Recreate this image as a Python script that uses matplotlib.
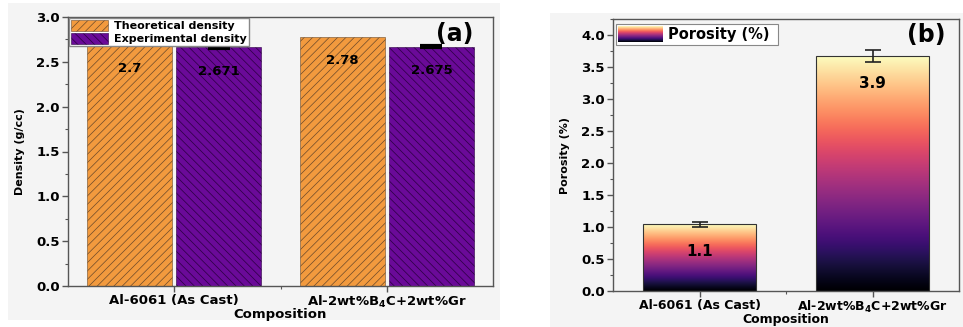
import numpy as np
import matplotlib
matplotlib.use('Agg')
from matplotlib import pyplot as plt
from matplotlib.patches import Rectangle
from matplotlib.ticker import MultipleLocator, FixedLocator

# data
categories = ['Al-6061 (As Cast)', 'Al-2wt%B$_\\mathbf{4}$C+2wt%Gr']
theoretical = [2.70, 2.78]
experimental = [2.665, 2.67]
experimental_err = [0.01, 0.01]
density_labels = [['2.7', '2.671'], ['2.78', '2.675']]

porosity = [1.04, 3.67]
porosity_err = [0.04, 0.09]
porosity_labels = ['1.1', '3.9']

orange = '#F29A3E'
purple = '#6A0A98'
panel_bg = '#f4f4f4'
spine_col = '#555555'

plt.rcParams['font.family'] = 'DejaVu Sans'
plt.rcParams['font.weight'] = 'bold'
plt.rcParams['hatch.linewidth'] = 0.5

fig = plt.figure(figsize=(9.63, 3.27), dpi=100)
fig.patch.set_facecolor('white')

# grey panel backgrounds
fig.add_artist(Rectangle((8 / 963, 7 / 327), 492 / 963, 317 / 327,
                         transform=fig.transFigure, facecolor=panel_bg,
                         edgecolor='none', zorder=0))
fig.add_artist(Rectangle((550 / 963, 0), 413 / 963, 314 / 327,
                         transform=fig.transFigure, facecolor=panel_bg,
                         edgecolor='none', zorder=0))


def style_axes(ax):
    ax.set_facecolor(panel_bg)
    for s in ax.spines.values():
        s.set_color(spine_col)
        s.set_linewidth(1.0)
    ax.tick_params(which='major', direction='out', length=4, width=1,
                   color=spine_col, labelsize=9.5, pad=2)
    ax.tick_params(which='minor', direction='out', length=2.5, width=0.8,
                   color=spine_col)
    for lab in ax.get_yticklabels() + ax.get_xticklabels():
        lab.set_fontweight('bold')


# ---------------- panel (a) ----------------
ax1 = fig.add_axes([68 / 963, 41 / 327, 425 / 963, 269 / 327])
x = np.arange(len(categories))
w = 0.4
gap = 0.01
ax1.bar(x - w / 2 - gap, theoretical, w, color=orange, edgecolor='#6b4a2a',
        linewidth=0.4, hatch='////', label='Theoretical density', zorder=2)
ax1.bar(x + w / 2 + gap, experimental, w, color=purple, edgecolor='#2a0040',
        linewidth=0.4, hatch='\\\\\\\\', label='Experimental density', zorder=2)
ax1.errorbar(x + w / 2 + gap, experimental, yerr=experimental_err, fmt='none',
             ecolor='black', elinewidth=2, capsize=8, capthick=3, zorder=3)

for i in range(len(categories)):
    ax1.text(x[i] - w / 2 - gap, theoretical[i] - 0.27, density_labels[i][0],
             ha='center', va='center', fontsize=9.5, fontweight='bold', zorder=4)
    ax1.text(x[i] + w / 2 + gap, experimental[i] - 0.27, density_labels[i][1],
             ha='center', va='center', fontsize=9.5, fontweight='bold', zorder=4)

ax1.set_xlim(-0.5, 1.5)
ax1.set_ylim(0, 3.0)
ax1.set_xticks(x)
ax1.set_xticklabels(categories)
ax1.xaxis.set_minor_locator(FixedLocator([0.5]))
ax1.yaxis.set_major_locator(MultipleLocator(0.5))
ax1.yaxis.set_minor_locator(MultipleLocator(0.25))
ax1.set_ylabel('Density (g/cc)', fontsize=8, fontweight='bold', labelpad=8)
ax1.set_xlabel('Composition', fontsize=9.5, fontweight='bold', labelpad=-2)
style_axes(ax1)
leg = ax1.legend(loc='upper left', borderaxespad=0.1,
                 frameon=True, fancybox=False, handlelength=3.3,
                 handleheight=1.1, labelspacing=0.15, borderpad=0.2,
                 handletextpad=0.5, prop={'weight': 'bold', 'size': 8})
leg.get_frame().set_edgecolor('#888888')
leg.get_frame().set_facecolor('white')
leg.get_frame().set_alpha(1)
ax1.text(0.91, 0.935, '(a)', transform=ax1.transAxes, ha='center',
         va='center', fontsize=17, fontweight='bold')

# ---------------- panel (b) ----------------
ax2 = fig.add_axes([613 / 963, 36 / 327, 346 / 963, 272 / 327])
bw = 0.65
grad = np.linspace(0, 1, 256).reshape(-1, 1)
for i, v in enumerate(porosity):
    ax2.imshow(grad, cmap='magma', aspect='auto', origin='lower',
               extent=[i - bw / 2, i + bw / 2, 0, v], zorder=2)
ax2.bar(x, porosity, bw, facecolor='none', edgecolor='#333333',
        linewidth=0.8, zorder=3)
ax2.errorbar(x, porosity, yerr=porosity_err, fmt='none', ecolor='#222222',
             elinewidth=1.2, capsize=6, capthick=1.2, zorder=4)
for i, v in enumerate(porosity):
    ax2.text(x[i], v - 0.42, porosity_labels[i], ha='center', va='center',
             fontsize=11, fontweight='bold', zorder=5)

ax2.set_xlim(-0.5, 1.5)
ax2.set_ylim(0, 4.25)
ax2.set_xticks(x)
ax2.set_xticklabels(categories)
ax2.xaxis.set_minor_locator(FixedLocator([0.5]))
ax2.yaxis.set_major_locator(MultipleLocator(0.5))
ax2.yaxis.set_minor_locator(MultipleLocator(0.25))
ax2.set_ylabel('Porosity (%)', fontsize=8, fontweight='bold', labelpad=8)
ax2.set_xlabel('Composition', fontsize=9, fontweight='bold', labelpad=-1)
style_axes(ax2)
ax2.tick_params(axis='x', which='major', labelsize=9, pad=1.5)

# legend box with gradient swatch
ax2.add_patch(Rectangle((0.008, 0.905), 0.47, 0.075, transform=ax2.transAxes,
                        facecolor='white', edgecolor='#888888', linewidth=0.8,
                        zorder=5))
ax2.imshow(grad, cmap='magma', aspect='auto', origin='lower',
           extent=[0.014, 0.143, 0.915, 0.972], transform=ax2.transAxes,
           zorder=6)
ax2.text(0.16, 0.943, 'Porosity (%)', transform=ax2.transAxes, ha='left',
         va='center', fontsize=10.5, fontweight='bold', zorder=6)
ax2.text(0.905, 0.94, '(b)', transform=ax2.transAxes, ha='center',
         va='center', fontsize=17, fontweight='bold')
ax2.set_xlim(-0.5, 1.5)
ax2.set_ylim(0, 4.25)

fig.savefig('out.png', dpi=100, facecolor=fig.get_facecolor())
